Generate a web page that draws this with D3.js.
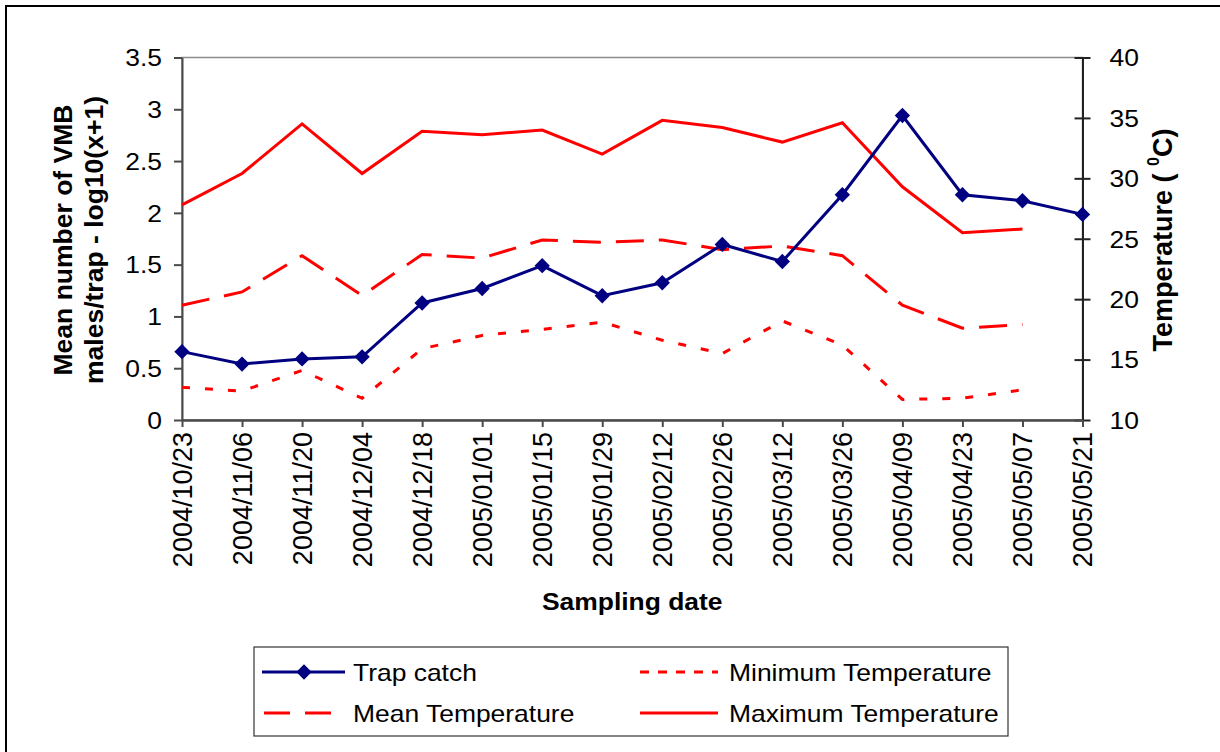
<!DOCTYPE html>
<html><head><meta charset="utf-8">
<script src="https://cdn.jsdelivr.net/npm/d3@7"></script>
<style>
body{margin:0;background:#fff;}
svg{display:block;font-family:"Liberation Sans",Arial,Helvetica,sans-serif;}
</style>
</head><body>
<svg id="chart" width="1220" height="752"></svg>
<script>
// ---------- data ----------
const dates = ["2004/10/23","2004/11/06","2004/11/20","2004/12/04","2004/12/18","2005/01/01","2005/01/15","2005/01/29","2005/02/12","2005/02/26","2005/03/12","2005/03/26","2005/04/09","2005/04/23","2005/05/07","2005/05/21"];
const trapCatch = [0.66,0.54,0.59,0.61,1.13,1.27,1.49,1.20,1.325,1.695,1.53,2.175,2.94,2.175,2.117,1.985];
const minTemp  = [12.7,12.4,14.1,11.8,15.9,17.0,17.5,18.1,16.6,15.5,18.2,16.2,11.7,11.8,12.5,null];
const meanTemp = [19.5,20.6,23.6,20.3,23.7,23.4,24.9,24.7,24.9,24.1,24.4,23.6,19.5,17.6,17.9,null];
const maxTemp  = [27.8,30.4,34.5,30.4,33.9,33.6,34.0,32.0,34.8,34.2,33.0,34.6,29.3,25.5,25.8,null];
const leftTicks = [0,0.5,1,1.5,2,2.5,3,3.5];
const rightTicks = [10,15,20,25,30,35,40];
const leftTitle = ["Mean number of VMB","males/trap - log10(x+1)"];
const rightTitle = ["Temperature ( ","0","C)"];
const xTitle = "Sampling date";
const legendItems = [
  {name:"Trap catch", key:"trap"},
  {name:"Minimum Temperature", key:"min"},
  {name:"Mean Temperature", key:"mean"},
  {name:"Maximum Temperature", key:"max"}
];

// ---------- layout ----------
const SX = 1.15; // horizontal stretch of the original bitmap text
const FS = 23;
const P = {l:182, r:1082.5, t:57.5, b:420};
const svg = d3.select("#chart");

const x = d3.scalePoint().domain(dates).range([P.l, P.r]).padding(0);
const yL = d3.scaleLinear().domain([0,3.5]).range([P.b, P.t]);
const yR = d3.scaleLinear().domain([10,40]).range([P.b, P.t]);

// outer frame (only top and left visible in the picture)
svg.append("rect").attr("x",6).attr("y",6).attr("width",1240).attr("height",780)
  .attr("fill","none").attr("stroke","#000").attr("stroke-width",2);

// plot area border
svg.append("rect").attr("x",P.l).attr("y",P.t).attr("width",P.r-P.l).attr("height",P.b-P.t)
  .attr("fill","none").attr("stroke","#8c8c8c").attr("stroke-width",1.5);

function stretchText(sel){
  sel.each(function(){
    const t = d3.select(this);
    const xx = +t.attr("x") || 0;
    t.attr("x",null).attr("transform",`translate(${xx},0) scale(${SX},1)`);
  });
}

// left axis
const gL = svg.append("g").attr("transform",`translate(${P.l},0)`)
  .call(d3.axisLeft(yL).tickValues(leftTicks).tickSize(8).tickSizeOuter(0).tickPadding(12).tickFormat(d3.format("")));
gL.select(".domain").attr("stroke","#4a4a4a").attr("stroke-width",2);
gL.selectAll(".tick line").attr("stroke","#4a4a4a").attr("stroke-width",2);
gL.selectAll(".tick text").attr("font-size",FS).attr("fill","#000").attr("font-family",null).attr("dy","0.36em").call(stretchText);

// right axis
const gR = svg.append("g").attr("transform",`translate(${P.r},0)`)
  .call(d3.axisRight(yR).tickValues(rightTicks).tickSize(8).tickSizeOuter(0).tickPadding(19));
gR.select(".domain").attr("stroke","#222").attr("stroke-width",2);
gR.selectAll(".tick line").attr("x1",-8).attr("stroke","#222").attr("stroke-width",2);
gR.selectAll(".tick text").attr("font-size",FS).attr("fill","#000").attr("font-family",null).attr("dy","0.36em").call(stretchText);

// bottom axis
const gB = svg.append("g").attr("transform",`translate(0,${P.b})`)
  .call(d3.axisBottom(x).tickSize(7).tickSizeOuter(0));
gB.select(".domain").attr("stroke","#4a4a4a").attr("stroke-width",2.5);
gB.selectAll(".tick line").attr("stroke","#4a4a4a").attr("stroke-width",2);
gB.selectAll(".tick text").attr("font-size",27).attr("fill","#000").attr("font-family",null)
  .attr("transform","rotate(-90)").attr("text-anchor","end")
  .attr("x",-12).attr("y",0).attr("dy","0.35em");

// axis titles
svg.append("text").attr("transform",`translate(${(P.l+P.r)/2},610) scale(${SX},1)`)
  .attr("text-anchor","middle").attr("font-weight","bold").attr("font-size",FS).text(xTitle);

const lt = svg.append("g");
lt.selectAll("text").data(leftTitle).join("text")
  .attr("transform",(d,i)=>`translate(${72+i*31},240) rotate(-90)`)
  .attr("text-anchor","middle").attr("font-weight","bold").attr("font-size",26.5).text(d=>d);

const rt = svg.append("text").attr("transform","translate(1172,240) rotate(-90)")
  .attr("text-anchor","middle").attr("font-weight","bold").attr("font-size",27);
rt.append("tspan").text(rightTitle[0]);
rt.append("tspan").attr("font-size",16).attr("dy",-13).text(rightTitle[1]);
rt.append("tspan").attr("dy",13).text(rightTitle[2]);

// series
const RED = "#ff0000", NAVY = "#000080";
const styles = {
  trap:{color:NAVY, dash:null},
  min:{color:RED, dash:"8,15"},
  mean:{color:RED, dash:"28,15"},
  max:{color:RED, dash:null}
};
function tempLine(arr, st){
  const line = d3.line().defined(d=>d.v!=null).x(d=>x(d.d)).y(d=>yR(d.v));
  svg.append("path").datum(dates.map((d,i)=>({d, v:arr[i]})))
    .attr("d",line).attr("fill","none").attr("stroke",st.color).attr("stroke-width",3)
    .attr("stroke-dasharray",st.dash);
}
tempLine(maxTemp, styles.max);
tempLine(meanTemp, styles.mean);
tempLine(minTemp, styles.min);

const trapData = dates.map((d,i)=>({d, v:trapCatch[i]}));
svg.append("path").datum(trapData)
  .attr("d", d3.line().x(d=>x(d.d)).y(d=>yL(d.v)))
  .attr("fill","none").attr("stroke",NAVY).attr("stroke-width",3);
const diamond = d3.symbol().type(d3.symbolDiamond2).size(150);
svg.selectAll(".mk").data(trapData).join("path").attr("class","mk")
  .attr("transform",d=>`translate(${x(d.d)},${yL(d.v)})`)
  .attr("d",diamond).attr("fill",NAVY);

// legend
svg.append("rect").attr("x",254).attr("y",647).attr("width",754).attr("height",89)
  .attr("fill","#fff").attr("stroke","#333").attr("stroke-width",1.2);
const legPos = {
  trap:{x1:262,x2:345,y:672,tx:353},
  min:{x1:640,x2:718,y:672,tx:729},
  mean:{x1:264,x2:332,y:713,tx:353},
  max:{x1:640,x2:718,y:713,tx:729}
};
const legDash = {trap:null, min:"9,9", mean:"26,15", max:null};
legendItems.forEach(it=>{
  const p = legPos[it.key], st = styles[it.key];
  svg.append("line").attr("x1",p.x1).attr("x2",p.x2).attr("y1",p.y).attr("y2",p.y)
    .attr("stroke",st.color).attr("stroke-width",3).attr("stroke-dasharray",legDash[it.key]);
  if(it.key==="trap"){
    svg.append("path").attr("transform",`translate(${(p.x1+p.x2)/2+0.5},${p.y})`)
      .attr("d",diamond).attr("fill",NAVY);
  }
  svg.append("text").attr("transform",`translate(${p.tx},${p.y+8.5}) scale(${SX},1)`)
    .attr("font-size",FS).text(it.name);
});
</script>
</body></html>
